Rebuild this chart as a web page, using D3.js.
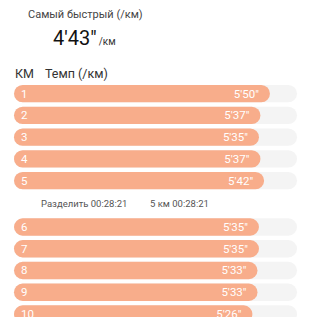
<!DOCTYPE html>
<html>
<head>
<meta charset="utf-8">
<script src="https://cdn.jsdelivr.net/npm/d3@7"></script>
<style>
  body { margin: 0; background: #fff; }
  svg { display: block; font-family: Roboto, "Noto Sans", sans-serif; }
</style>
</head>
<body>
<svg id="chart" width="317" height="317"></svg>
<script>
// pace per km, seconds
var km = [1, 2, 3, 4, 5, 6, 7, 8, 9, 10];
var paceSec = [350, 337, 335, 337, 342, 335, 335, 333, 333, 326];
var fastest = "4'43\"";
var splitLabel = "Разделить 00:28:21";
var splitKm = "5 км 00:28:21";

var fmt = function(s) {
  var m = Math.floor(s / 60), r = s % 60;
  return m + "'" + (r < 10 ? "0" : "") + r + "\"";
};

var svg = d3.select("#chart");

svg.append("text").attr("x", 28).attr("y", 18)
  .attr("font-size", 11).attr("fill", "#444")
  .text("Самый быстрый (/км)");
var big = svg.append("text").attr("x", 53).attr("y", 45).attr("fill", "#111");
big.append("tspan").attr("font-size", 20).text(fastest);
big.append("tspan").attr("font-size", 10).attr("dx", 2).attr("fill", "#333").text("/км");

svg.append("text").attr("x", 15).attr("y", 77.5).attr("font-size", 12.5).attr("fill", "#333").text("КМ");
svg.append("text").attr("x", 45).attr("y", 77.5).attr("font-size", 12.5).attr("fill", "#333").text("Темп (/км)");

var x = d3.scaleLinear().domain([0, 387]).range([14, 297]);
var y = d3.scaleLinear().domain([0, 1]).range([85, 106.75]);
var barH = 17.3;
var gap = 24.6;
var rowY = function(i) { return y(i) + (i >= 5 ? gap : 0); };

var rows = svg.selectAll("g.row").data(paceSec).enter().append("g")
  .attr("class", "row")
  .attr("transform", function(d, i) { return "translate(0," + rowY(i) + ")"; });

rows.append("rect").attr("x", x(0)).attr("width", x(387) - x(0))
  .attr("height", barH).attr("rx", barH / 2).attr("fill", "#f4f4f4");
rows.append("rect").attr("x", x(0)).attr("width", function(d) { return x(d) - x(0); })
  .attr("height", barH).attr("rx", barH / 2).attr("fill", "#f8ad8b");
rows.append("text").attr("x", 21).attr("y", 12.6)
  .attr("font-size", 11.5).attr("fill", "#fff")
  .text(function(d, i) { return km[i]; });
rows.append("text").attr("x", function(d) { return x(d) - 11; }).attr("y", 12.6)
  .attr("text-anchor", "end").attr("font-size", 11.5).attr("fill", "#fff")
  .text(function(d) { return fmt(d); });

svg.append("text").attr("x", 41).attr("y", 207).attr("font-size", 9.5).attr("fill", "#555").text(splitLabel);
svg.append("text").attr("x", 150).attr("y", 207).attr("font-size", 9.5).attr("fill", "#555").text(splitKm);
</script>
</body>
</html>
